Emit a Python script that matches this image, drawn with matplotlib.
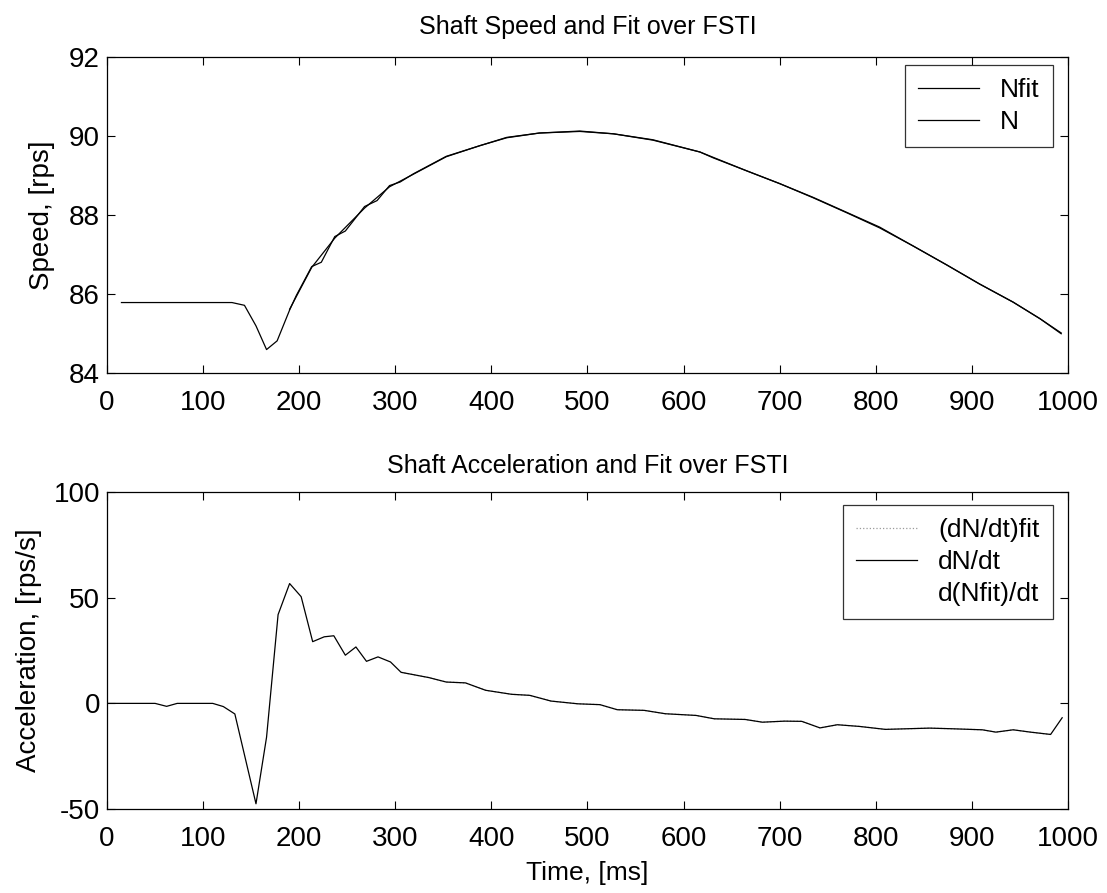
import matplotlib
matplotlib.use('Agg')
import matplotlib.pyplot as plt

plt.rcParams['font.family'] = ['Liberation Sans', 'DejaVu Sans']
plt.rcParams['axes.unicode_minus'] = False

# Shaft speed N [rps] vs time [ms]
t_n = [15, 60, 100, 130, 143, 155, 166, 177, 190, 197, 213, 223, 237, 248, 268,
       281, 294, 305, 319, 353, 388, 416, 450, 492, 527, 568, 617, 631, 666, 700,
       735, 770, 804, 839, 874, 908, 943, 971, 993]
n_val = [85.79, 85.79, 85.79, 85.79, 85.72, 85.2, 84.6, 84.82, 85.6, 85.97, 86.7,
         86.81, 87.46, 87.6, 88.22, 88.37, 88.75, 88.84, 89.05, 89.49, 89.76, 89.97,
         90.08, 90.13, 90.06, 89.91, 89.6, 89.45, 89.12, 88.8, 88.45, 88.07, 87.7,
         87.22, 86.74, 86.26, 85.8, 85.38, 85.0]

# Fitted speed Nfit (drawn on top of N from the rise onwards)
t_nfit = [190, 213, 237, 268, 294, 319, 353, 388, 416, 450, 492, 527, 568, 617,
          666, 700, 735, 770, 804, 839, 874, 908, 943, 971, 993]
nfit_val = [85.62, 86.68, 87.42, 88.18, 88.72, 89.04, 89.48, 89.76, 89.96, 90.08,
            90.12, 90.06, 89.9, 89.6, 89.12, 88.8, 88.44, 88.06, 87.68, 87.22,
            86.74, 86.26, 85.8, 85.38, 85.02]

# Shaft acceleration dN/dt [rps/s]
t_a = [0, 50, 62, 73, 110, 121, 133, 155, 166, 178, 190, 202, 214, 226, 236, 248,
       259, 270, 282, 295, 306, 335, 353, 373, 394, 421, 440, 462, 490, 513, 531,
       559, 581, 613, 632, 664, 682, 705, 723, 742, 760, 783, 810, 833, 856, 879,
       911, 925, 943, 961, 982, 994]
a_val = [0, 0, -1.4, 0, 0, -1.5, -5.0, -47.5, -16, 42, 56.7, 50.5, 29.2, 31.5,
         32.0, 22.8, 26.7, 19.9, 22.0, 19.6, 14.7, 12.2, 10.1, 9.7, 6.2, 4.3, 3.8,
         1.1, -0.2, -0.6, -3.0, -3.3, -4.9, -5.7, -7.3, -7.6, -8.9, -8.4, -8.5,
         -11.6, -10.1, -10.9, -12.3, -12.0, -11.7, -12.0, -12.5, -13.6, -12.5,
         -13.6, -14.7, -6.8]

# Fitted accelerations over the fit window
t_afit = [306, 335, 353, 373, 394, 421, 440, 462, 490, 513, 531, 559, 581, 613,
          632, 664, 682, 705, 723, 742, 760, 783, 810, 833, 856, 879, 911, 925,
          943, 961, 982]
afit_val = [14.7, 12.2, 10.1, 9.7, 6.2, 4.3, 3.8, 1.1, -0.2, -0.6, -3.0, -3.3,
            -4.9, -5.7, -7.3, -7.6, -8.9, -8.4, -8.5, -11.6, -10.1, -10.9, -12.3,
            -12.0, -11.7, -12.0, -12.5, -13.6, -12.5, -13.6, -14.7]
adfit_val = afit_val

fig = plt.figure(figsize=(11.07, 8.93), dpi=100)
ax1 = fig.add_axes([0.0967, 0.582, 0.868, 0.354])
ax2 = fig.add_axes([0.0967, 0.094, 0.868, 0.355])

for ax in (ax1, ax2):
    ax.tick_params(direction='in', top=True, right=True, labelsize=20,
                   length=6, width=0.8, pad=5)
    ax.tick_params(axis='x', pad=12)
    for sp in ax.spines.values():
        sp.set_linewidth(0.9)
    ax.set_xlim(0, 1000)
    ax.set_xticks(range(0, 1001, 100))

leg_kw = dict(loc='upper right', fontsize=19, frameon=True, fancybox=False,
              edgecolor='black', handlelength=2.3, handletextpad=0.8,
              labelspacing=0.3, borderpad=0.5, borderaxespad=0.0)

# Top: speed
ax1.plot(t_nfit, nfit_val, color='black', lw=0.9, label='Nfit')
ax1.plot(t_n, n_val, color='black', lw=0.9, label='N')
ax1.set_ylim(84, 92)
ax1.set_yticks([84, 86, 88, 90, 92])
ax1.set_ylabel('Speed, [rps]', fontsize=20, labelpad=10)
ax1.set_title('Shaft Speed and Fit over FSTI', fontsize=18, pad=17)
leg1 = ax1.legend(bbox_to_anchor=(0.984, 0.975), **leg_kw)

# Bottom: acceleration
ax2.plot(t_afit, afit_val, color='#9a9a9a', lw=0.9, ls=':', label='(dN/dt)fit')
ax2.plot(t_a, a_val, color='black', lw=0.9, label='dN/dt')
ax2.plot(t_afit, adfit_val, color='white', lw=0.1, alpha=0.0, label='d(Nfit)/dt')
ax2.set_ylim(-50, 100)
ax2.set_yticks([-50, 0, 50, 100])
ax2.set_ylabel('Acceleration, [rps/s]', fontsize=20, labelpad=8)
ax2.set_xlabel('Time, [ms]', fontsize=19, labelpad=7)
ax2.set_title('Shaft Acceleration and Fit over FSTI', fontsize=18, pad=14)
leg2 = ax2.legend(bbox_to_anchor=(0.984, 0.96), **leg_kw)

for leg in (leg1, leg2):
    leg.get_frame().set_linewidth(0.9)

fig.savefig('out.png', dpi=100)
